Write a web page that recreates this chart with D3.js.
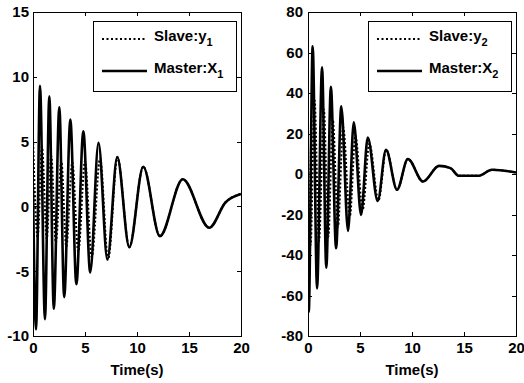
<!DOCTYPE html>
<html>
<head>
<meta charset="utf-8">
<script src="https://cdn.jsdelivr.net/npm/d3@7"></script>
<style>
  body { margin: 0; background: #fff; }
  svg { display: block; font-family: Arial, "Liberation Sans", sans-serif; font-weight: bold; }
</style>
</head>
<body>
<svg id="chart" width="524" height="383"></svg>
<script>
// ---- data (extrema of each trace) ----
const xTicks = [0, 5, 10, 15, 20];
const yTicksLeft = [-10, -5, 0, 5, 10, 15];
const yTicksRight = [-80, -60, -40, -20, 0, 20, 40, 60, 80];

const timeX1 = [0, 0.29, 0.67, 1.15, 1.57, 2.0, 2.53, 3.0, 3.59, 4.17, 4.84, 5.5, 6.3, 7.15, 8.1, 9.26, 10.6, 12.2, 14.4, 16.95, 18.5, 20];
const masterX1 = [1.5, -9.5, 9.3, -8.7, 8.5, -7.9, 7.65, -7.0, 6.7, -6.0, 5.8, -5.1, 4.9, -4.1, 3.8, -3.15, 3.06, -2.3, 2.1, -1.65, 0.3, 0.96];

const timeY1 = [0, 0.45, 0.86, 1.32, 1.75, 2.2, 2.72, 3.2, 3.78, 4.35, 5.0, 5.65, 6.45, 7.22, 8.12, 9.26, 10.6, 12.2, 14.4, 16.95, 18.5, 20];
const slaveY1 = [5.2, -2.4, 4.6, -2.5, 3.9, -2.8, 3.5, -3.1, 3.4, -3.5, 3.5, -3.9, 3.7, -4.1, 3.8, -3.15, 3.06, -2.3, 2.1, -1.65, 0.3, 0.96];

const timeX2 = [0, 0.07, 0.45, 0.87, 1.35, 1.76, 2.2, 2.7, 3.2, 3.85, 4.4, 5.1, 5.75, 6.7, 7.5, 8.56, 9.6, 11.06, 12.6, 13.7, 14.5, 16.4, 17.7, 20];
const masterX2 = [-60, -68, 63, -56.5, 52.7, -46.3, 43, -36.7, 33.4, -28.1, 25.5, -20.2, 18, -13.3, 12, -7.8, 7.4, -3.7, 4.0, 2.9, -0.9, -0.9, 2.1, 0.75];

const timeY2 = [0, 0.25, 0.62, 1.06, 1.52, 1.95, 2.38, 2.88, 3.38, 4.02, 4.56, 5.25, 5.9, 6.78, 7.52, 8.56, 9.6, 11.06, 12.6, 13.7, 14.5, 16.4, 17.7, 20];
const slaveY2 = [15, -35, 37, -33, 32, -31, 27, -26, 23, -21, 19, -17.7, 15, -13, 12, -7.8, 7.4, -3.7, 4.0, 2.9, -0.9, -0.9, 2.1, 0.75];

const svg = d3.select('#chart');

function panel(opts) {
    const { left, right, top, bottom, yDomain, yTicks, master, slave, legend, sub, labelPad } = opts;
    const x = d3.scaleLinear().domain([0, 20]).range([left, right]);
    const y = d3.scaleLinear().domain(yDomain).range([bottom, top]);
    const g = svg.append('g');

    const line = d3.line()
        .x(d => x(d[0]))
        .y(d => y(d[1]))
        .curve(d3.curveMonotoneX);

    const clip = 'clip' + sub;
    g.append('clipPath').attr('id', clip)
        .append('rect').attr('x', left).attr('y', top).attr('width', right - left).attr('height', bottom - top);

    // Master (solid) then slave (dotted)
    g.append('path')
        .datum(master)
        .attr('clip-path', `url(#${clip})`)
        .attr('d', line)
        .attr('fill', 'none')
        .attr('stroke', '#000')
        .attr('stroke-width', 2.6)
        .attr('stroke-linejoin', 'round');

    g.append('path')
        .datum(slave)
        .attr('clip-path', `url(#${clip})`)
        .attr('d', line)
        .attr('fill', 'none')
        .attr('stroke', '#000')
        .attr('stroke-width', 2)
        .attr('stroke-dasharray', '2 2');

    // Axes - ticks pointing inward, MATLAB box style
    const fmt = d => d3.format('d')(d).replace('−', '-');
    g.append('g').attr('transform', `translate(0,${bottom})`)
        .call(d3.axisBottom(x).tickValues(xTicks).tickSize(-4).tickPadding(6).tickFormat(fmt));
    g.append('g').attr('transform', `translate(${left},0)`)
        .call(d3.axisLeft(y).tickValues(yTicks).tickSize(-4).tickPadding(labelPad).tickFormat(fmt));
    g.append('g').attr('transform', `translate(0,${top})`)
        .call(d3.axisTop(x).tickValues(xTicks).tickSize(-4).tickFormat(''));
    g.append('g').attr('transform', `translate(${right},0)`)
        .call(d3.axisRight(y).tickValues(yTicks).tickSize(-4).tickFormat(''));

    g.selectAll('.domain').remove();
    g.selectAll('.tick line').attr('stroke', '#000').attr('shape-rendering', 'crispEdges');
    g.selectAll('.tick text')
        .attr('fill', '#000')
        .style('font-size', '15px')
        .style('font-weight', 'bold')
        .style('font-family', 'Arial, "Liberation Sans", sans-serif');

    g.append('rect')
        .attr('x', left + 0.5).attr('y', top + 0.5)
        .attr('width', right - left).attr('height', bottom - top)
        .attr('fill', 'none').attr('stroke', '#000').attr('stroke-width', 1.2)
        .attr('shape-rendering', 'crispEdges');

    g.append('text')
        .attr('x', (left + right) / 2)
        .attr('y', 375)
        .attr('text-anchor', 'middle')
        .style('font-size', '15px')
        .text('Time(s)');

    // Legend
    const lx = right - 148, ly = top + 9, lw = 143, lh = 70;
    const lg = g.append('g');
    lg.append('rect')
        .attr('x', lx + 0.5).attr('y', ly + 0.5).attr('width', lw).attr('height', lh)
        .attr('fill', '#fff').attr('stroke', '#000').attr('shape-rendering', 'crispEdges');

    const rows = [
        { name: legend[0], dash: '2 2.5', w: 2, yy: ly + 18 },
        { name: legend[1], dash: null, w: 2.6, yy: ly + 50 }
    ];
    rows.forEach(r => {
        lg.append('line')
            .attr('x1', lx + 9).attr('x2', lx + 54)
            .attr('y1', r.yy).attr('y2', r.yy)
            .attr('stroke', '#000').attr('stroke-width', r.w)
            .attr('stroke-dasharray', r.dash);
        const t = lg.append('text')
            .attr('x', lx + 61).attr('y', r.yy + 2)
            .style('font-size', '15px');
        t.append('tspan').text(r.name);
        t.append('tspan').attr('dy', 5).style('font-size', '11px').text(sub);
    });
}

panel({
    left: 33, right: 241, top: 12, bottom: 336,
    yDomain: [-10, 15], yTicks: yTicksLeft, labelPad: 4, sub: '1',
    master: d3.zip(timeX1, masterX1),
    slave: d3.zip(timeY1, slaveY1),
    legend: ['Slave:y', 'Master:X']
});

panel({
    left: 308, right: 516, top: 12, bottom: 336,
    yDomain: [-80, 80], yTicks: yTicksRight, labelPad: 5, sub: '2',
    master: d3.zip(timeX2, masterX2),
    slave: d3.zip(timeY2, slaveY2),
    legend: ['Slave:y', 'Master:X']
});
</script>
</body>
</html>
